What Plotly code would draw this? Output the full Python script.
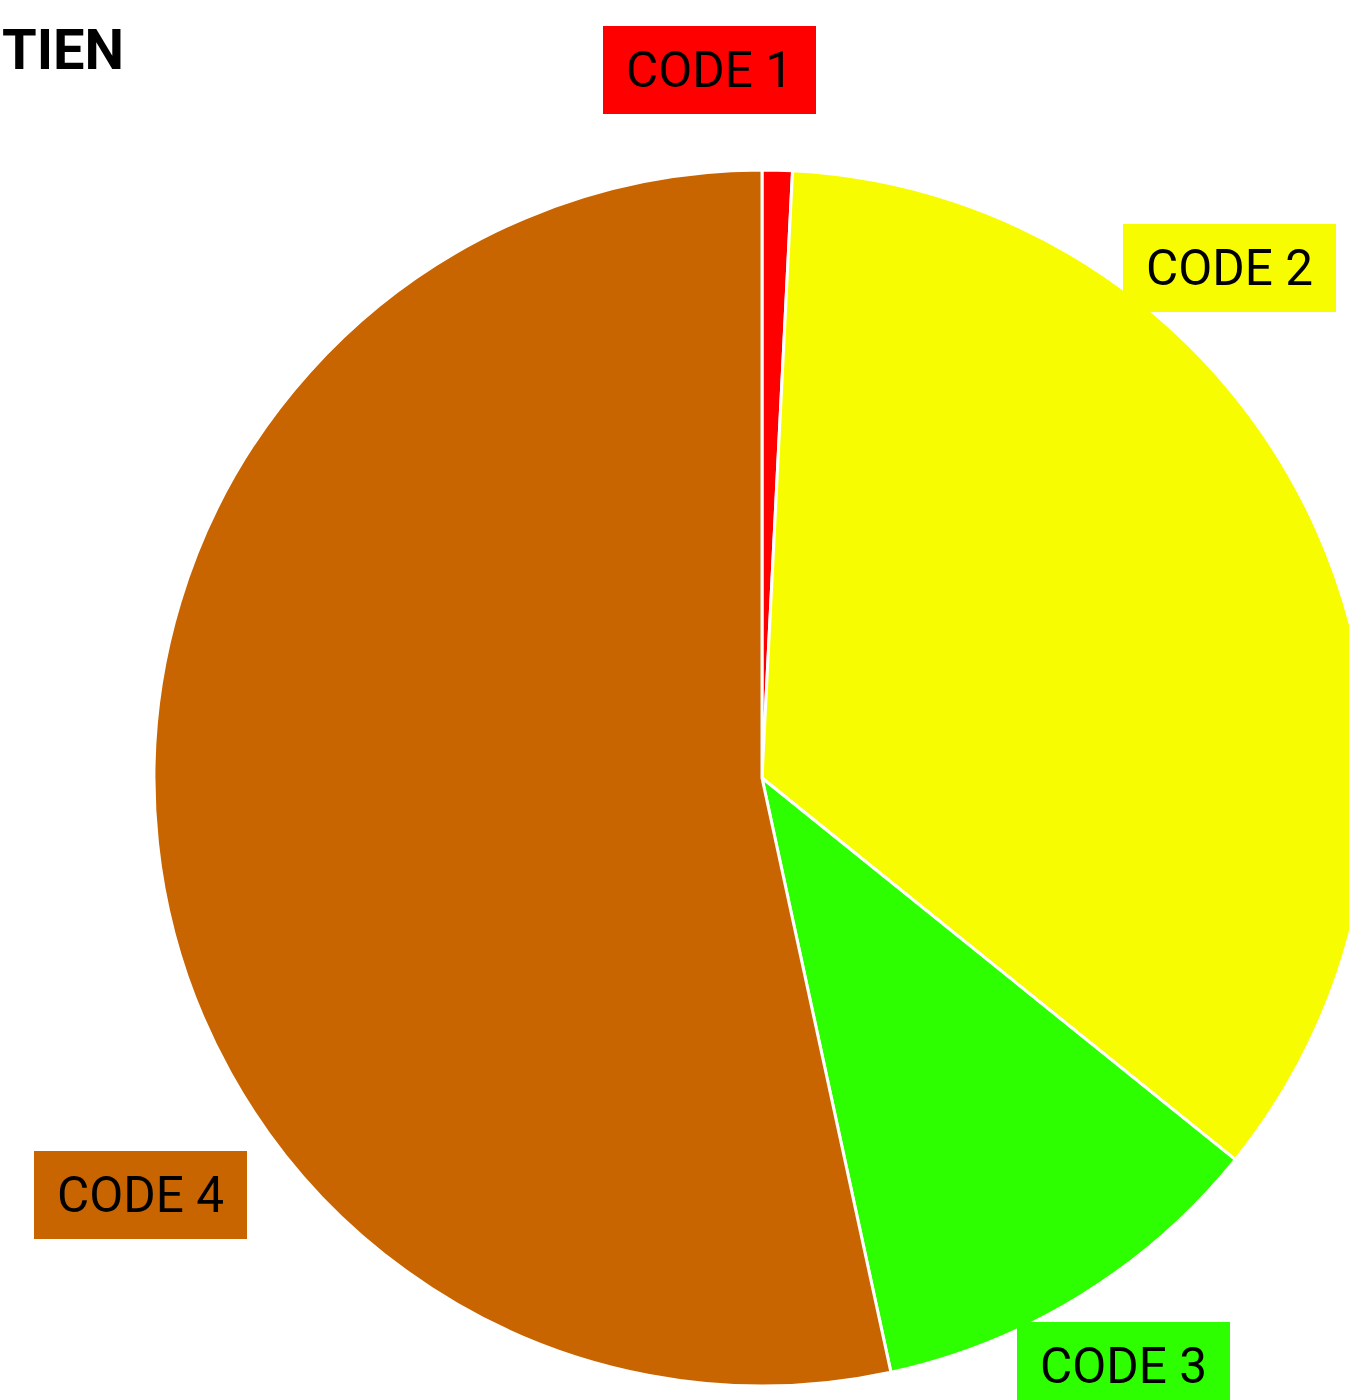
import plotly.graph_objects as go

# ---- data ----
categories = ["CODE 1", "CODE 2", "CODE 3", "CODE 4"]
shares = [0.8, 35.0, 10.8, 53.4]
colors = ["#ff0000", "#f8fc00", "#2eff00", "#c96500"]
title_text = "TIEN"

# ---- layout constants (pixels) ----
W, H = 1380, 1400
cx, cy, r = 762, 778, 608

fig = go.Figure(
    go.Pie(
        labels=categories,
        values=shares,
        sort=False,
        direction="clockwise",
        rotation=0,
        marker=dict(colors=colors, line=dict(color="white", width=3)),
        textinfo="none",
        hoverinfo="label+percent",
        showlegend=False,
        domain=dict(
            x=[(cx - r) / W, (cx + r) / W],
            y=[(H - (cy + r)) / H, (H - (cy - r)) / H],
        ),
    )
)

label_centers = {
    "CODE 1": (709.5, 70),
    "CODE 2": (1229.5, 267.5),
    "CODE 3": (1123, 1366),
    "CODE 4": (140.5, 1195),
}

annotations = []
for cat, col in zip(categories, colors):
    px, py = label_centers[cat]
    annotations.append(
        dict(
            text=cat,
            xref="paper", yref="paper",
            x=px / W, y=1 - py / H,
            xanchor="center", yanchor="middle",
            showarrow=False,
            width=213, height=88,
            align="center", valign="middle",
            bgcolor=col, borderwidth=0, borderpad=0,
            font=dict(family="Roboto", size=49.5, color="black"),
        )
    )

annotations.append(
    dict(
        text="<b>" + title_text + "</b>",
        xref="paper", yref="paper",
        x=0, y=1 - 50 / H,
        xanchor="left", yanchor="middle",
        showarrow=False,
        font=dict(family="Roboto", size=56, color="black"),
    )
)

fig.update_layout(
    width=W, height=H,
    margin=dict(l=0, r=0, t=0, b=0),
    paper_bgcolor="white",
    plot_bgcolor="white",
    annotations=annotations,
)

fig.write_html(
    "out.html",
    config={"displayModeBar": False},
    post_script="document.body.style.margin='0';document.body.style.overflow='hidden';",
)
